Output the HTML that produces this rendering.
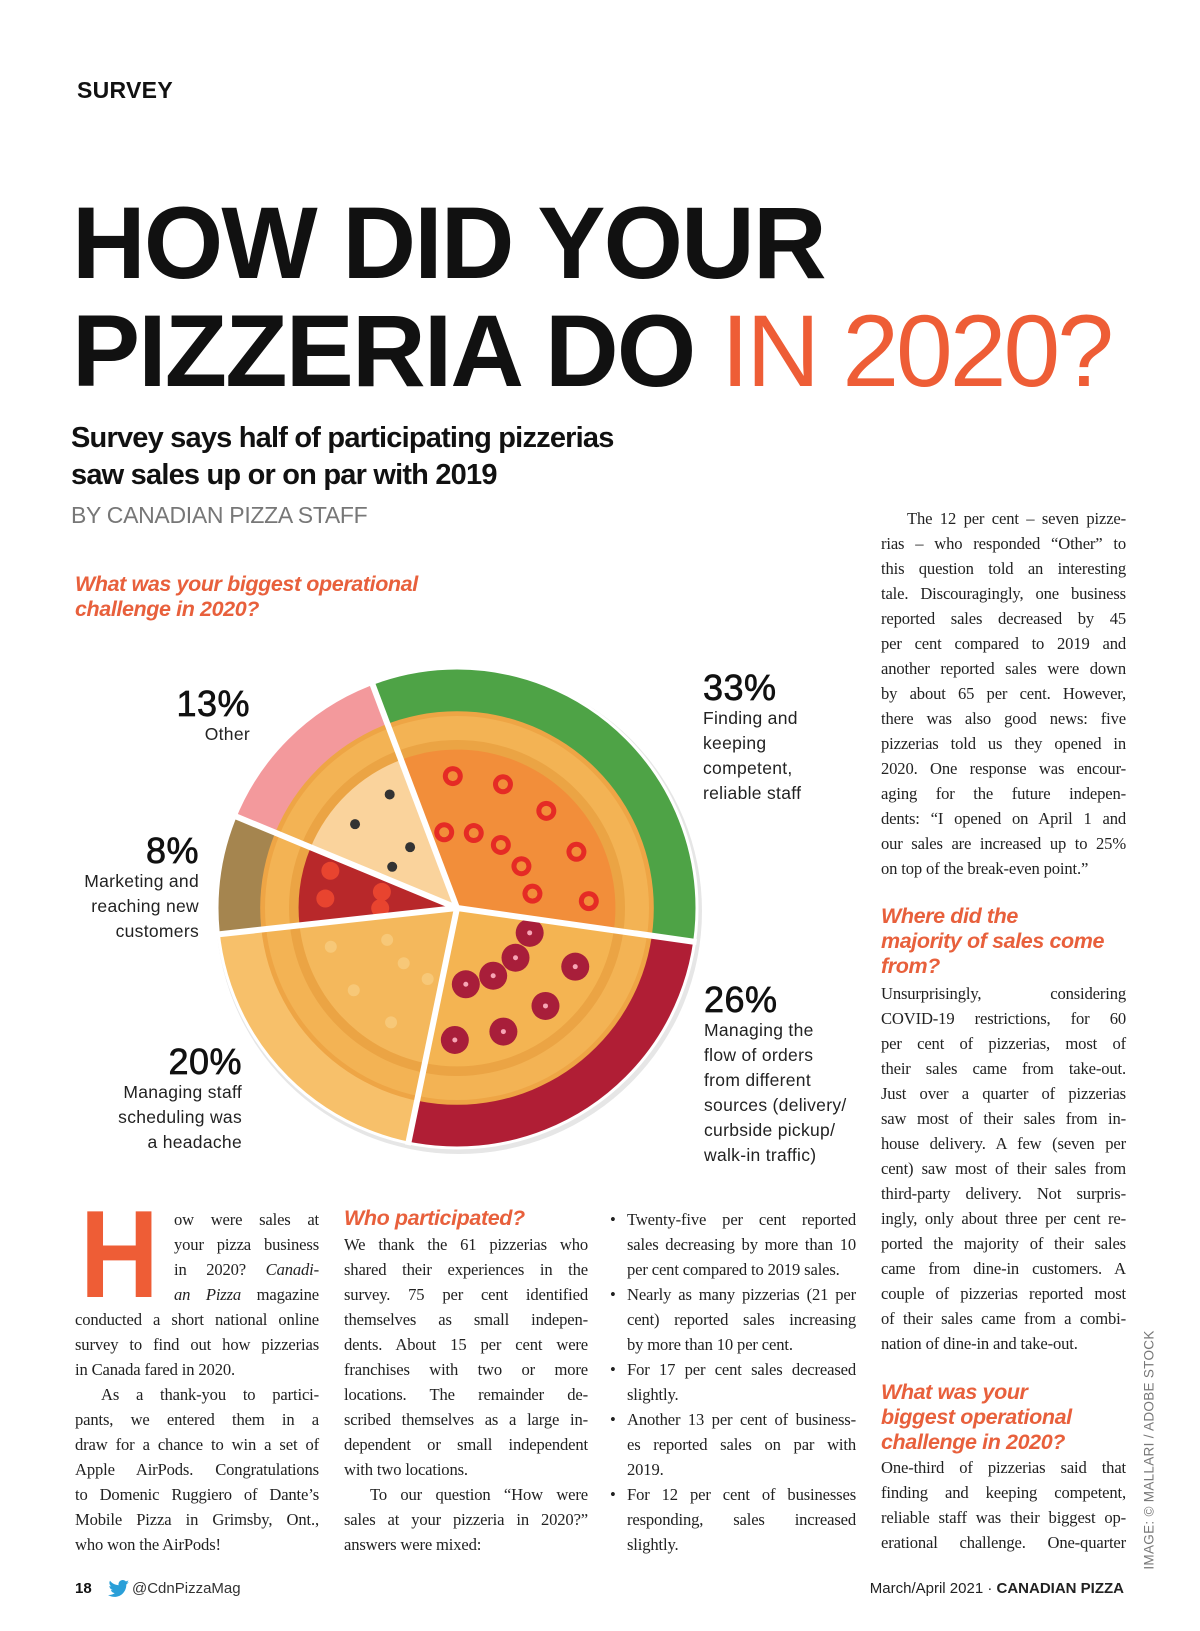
<!DOCTYPE html>
<html><head><meta charset="utf-8">
<style>
*{margin:0;padding:0;box-sizing:border-box}
body{width:1200px;height:1631px;background:#fff;position:relative;overflow:hidden;font-family:"Liberation Sans",sans-serif;color:#111}
.abs{position:absolute;white-space:nowrap}
.blk{position:absolute;font-family:"Liberation Serif",serif;font-size:16.6px;line-height:25px;color:#222;letter-spacing:-0.15px}
.blk div{white-space:nowrap;text-align:justify;text-align-last:justify;height:25px;overflow:visible}
.blk div.l{text-align-last:left}
.blk div.i{text-indent:26px}
.oh{font-weight:bold;font-style:italic;color:#e8603c;font-size:21.5px;line-height:25px;letter-spacing:-0.4px}
.pct{font-size:36px;-webkit-text-stroke:0.7px #111;letter-spacing:0.5px;line-height:36px}
.lab{font-size:17.5px;line-height:25px;color:#222;letter-spacing:0.3px}
</style></head><body>
<div class="abs" style="left:77px;top:77px;font-size:23px;font-weight:bold;letter-spacing:0.3px">SURVEY</div>
<div class="abs" style="left:72px;top:189px;font-size:102px;line-height:108px;font-weight:bold;letter-spacing:-1.8px">HOW DID YOUR<br>PIZZERIA DO <span style="font-weight:normal;color:#ee5d36;letter-spacing:-3px">IN 2020?</span></div>
<div class="abs" style="left:71px;top:420px;font-size:29px;line-height:37px;font-weight:bold;letter-spacing:-0.8px">Survey says half of participating pizzerias<br>saw sales up or on par with 2019</div>
<div class="abs" style="left:71px;top:502px;font-size:23px;color:#777;letter-spacing:-0.3px">BY CANADIAN PIZZA STAFF</div>
<div class="abs oh" style="left:75px;top:572px">What was your biggest operational<br>challenge in 2020?</div>

<svg id="pie" width="1200" height="1631" style="position:absolute;left:0;top:0"></svg>

<div class="abs" style="right:950px;top:686px;text-align:right"><div class="pct">13%</div><div class="lab">Other</div></div>
<div class="abs" style="right:1001px;top:833px;text-align:right"><div class="pct">8%</div><div class="lab">Marketing and<br>reaching new<br>customers</div></div>
<div class="abs" style="right:958px;top:1044px;text-align:right"><div class="pct">20%</div><div class="lab">Managing staff<br>scheduling was<br>a headache</div></div>
<div class="abs" style="left:703px;top:670px"><div class="pct">33%</div><div class="lab">Finding and<br>keeping<br>competent,<br>reliable staff</div></div>
<div class="abs" style="left:704px;top:982px"><div class="pct">26%</div><div class="lab">Managing the<br>flow of orders<br>from different<br>sources (delivery/<br>curbside pickup/<br>walk-in traffic)</div></div>

<div class="blk" style="left:881px;top:506px;width:245px">
<div class="i">The 12 per cent – seven pizze-</div><div>rias – who responded “Other” to</div><div>this question told an interesting</div><div>tale. Discouragingly, one business</div><div>reported sales decreased by 45</div><div>per cent compared to 2019 and</div><div>another reported sales were down</div><div>by about 65 per cent. However,</div><div>there was also good news: five</div><div>pizzerias told us they opened in</div><div>2020. One response was encour-</div><div>aging for the future indepen-</div><div>dents: “I opened on April 1 and</div><div>our sales are increased up to 25%</div><div class="l">on top of the break-even point.”</div>
</div>
<div class="abs oh" style="left:881px;top:904px">Where did the<br>majority of sales come<br>from?</div>
<div class="blk" style="left:881px;top:981px;width:245px">
<div>Unsurprisingly, considering</div><div>COVID-19 restrictions, for 60</div><div>per cent of pizzerias, most of</div><div>their sales came from take-out.</div><div>Just over a quarter of pizzerias</div><div>saw most of their sales from in-</div><div>house delivery. A few (seven per</div><div>cent) saw most of their sales from</div><div>third-party delivery. Not surpris-</div><div>ingly, only about three per cent re-</div><div>ported the majority of their sales</div><div>came from dine-in customers. A</div><div>couple of pizzerias reported most</div><div>of their sales came from a combi-</div><div class="l">nation of dine-in and take-out.</div>
</div>
<div class="abs oh" style="left:881px;top:1380px">What was your<br>biggest operational<br>challenge in 2020?</div>
<div class="blk" style="left:881px;top:1455px;width:245px">
<div>One-third of pizzerias said that</div><div>finding and keeping competent,</div><div>reliable staff was their biggest op-</div><div>erational challenge. One-quarter</div>
</div>
<div class="abs" style="left:1149px;top:1450px;transform:translate(-50%,-50%) rotate(-90deg);font-size:13.5px;color:#777;letter-spacing:0.3px">IMAGE: © MALLARI / ADOBE STOCK</div>

<div class="abs" style="left:80px;top:1190px;font-size:124px;line-height:130px;font-weight:bold;color:#ee5d36;transform:scaleX(0.88);transform-origin:left">H</div>
<div class="blk" style="left:75px;top:1207px;width:244px">
<div style="margin-left:99px">ow were sales at</div><div style="margin-left:99px">your pizza business</div><div style="margin-left:99px">in 2020? <i>Canadi-</i></div><div style="margin-left:99px"><i>an Pizza</i> magazine</div><div>conducted a short national online</div><div>survey to find out how pizzerias</div><div class="l">in Canada fared in 2020.</div><div class="i">As a thank-you to partici-</div><div>pants, we entered them in a</div><div>draw for a chance to win a set of</div><div>Apple AirPods. Congratulations</div><div>to Domenic Ruggiero of Dante’s</div><div>Mobile Pizza in Grimsby, Ont.,</div><div class="l">who won the AirPods!</div>
</div>
<div class="abs oh" style="left:344px;top:1206px">Who participated?</div>
<div class="blk" style="left:344px;top:1232px;width:244px">
<div>We thank the 61 pizzerias who</div><div>shared their experiences in the</div><div>survey. 75 per cent identified</div><div>themselves as small indepen-</div><div>dents. About 15 per cent were</div><div>franchises with two or more</div><div>locations. The remainder de-</div><div>scribed themselves as a large in-</div><div>dependent or small independent</div><div class="l">with two locations.</div><div class="i">To our question “How were</div><div>sales at your pizzeria in 2020?”</div><div class="l">answers were mixed:</div>
</div>
<div class="blk" style="left:627px;top:1207px;width:229px">
<div>Twenty-five per cent reported</div><div>sales decreasing by more than 10</div><div class="l">per cent compared to 2019 sales.</div>
<div>Nearly as many pizzerias (21 per</div><div>cent) reported sales increasing</div><div class="l">by more than 10 per cent.</div>
<div>For 17 per cent sales decreased</div><div class="l">slightly.</div>
<div>Another 13 per cent of business-</div><div>es reported sales on par with</div><div class="l">2019.</div>
<div>For 12 per cent of businesses</div><div>responding, sales increased</div><div class="l">slightly.</div>
</div>
<div class="blk" style="left:610px;top:1207px;width:10px">
<div class="l">•</div><div></div><div></div><div class="l">•</div><div></div><div></div><div class="l">•</div><div></div><div class="l">•</div><div></div><div></div><div class="l">•</div>
</div>

<div class="abs" style="left:75px;top:1580px;font-size:15px;font-weight:bold">18</div>
<svg class="abs" style="left:108px;top:1580px" width="22" height="18" viewBox="0 0 22 18"><path d="M21 2c-.8.4-1.6.6-2.4.7.9-.5 1.5-1.4 1.8-2.3-.8.5-1.7.8-2.6 1C17 .5 15.9 0 14.7 0c-2.3 0-4.2 1.9-4.2 4.2 0 .3 0 .6.1 1C7.1 5 4 3.4 2 .8c-.4.6-.6 1.4-.6 2.1 0 1.5.7 2.7 1.9 3.5-.7 0-1.3-.2-1.9-.5 0 2 1.5 3.7 3.4 4.1-.6.2-1.3.2-1.9.1.5 1.7 2.1 2.9 3.9 2.9C5.3 14.2 3 15 .7 15c-.3 0-.5 0-.7 0 1.9 1.2 4.1 1.9 6.4 1.9 7.7 0 11.9-6.4 11.9-11.9v-.5c.9-.7 1.5-1.4 2.7-2.5z" fill="#2a9fd8"/></svg>
<div class="abs" style="left:132px;top:1580px;font-size:15px;color:#333">@CdnPizzaMag</div>
<div class="abs" style="right:76px;top:1580px;font-size:15px;color:#222">March/April 2021 · <b>CANADIAN PIZZA</b></div>

<script>
const categories = ["Finding and keeping competent, reliable staff","Managing the flow of orders","Managing staff scheduling","Marketing and reaching new customers","Other"];
const values = [33, 26, 20, 8, 13];
const ringColors = ["#4ea346","#b01e35","#f7c06a","#a5854f","#f3999c"];
const toppingColors = ["#f28e3a","#f4b452","#f4b85c","#b8282a","#fad39c"];
const startDeg = -20.7;

const svg = document.getElementById('pie');
const NS = 'http://www.w3.org/2000/svg';
const cx = 457, cy = 908, R = 240;
const total = values.reduce((a,b)=>a+b,0);
function angle(v){ return startDeg + v/total*360; }
function pt(deg, r){ const a=(deg-90)*Math.PI/180; return [cx+r*Math.cos(a), cy+r*Math.sin(a)]; }
function wedge(a0,a1,r,fill,name){
  const p0=pt(a0,r), p1=pt(a1,r), large=(a1-a0)>180?1:0;
  const p=document.createElementNS(NS,'path');
  p.setAttribute('d',`M${cx},${cy}L${p0[0]},${p0[1]}A${r},${r} 0 ${large} 1 ${p1[0]},${p1[1]}Z`);
  p.setAttribute('fill',fill);
  
  
  svg.appendChild(p);
}
function circ(x,y,r,fill,name){
  const c=document.createElementNS(NS,'circle');
  c.setAttribute('cx',x);c.setAttribute('cy',y);c.setAttribute('r',r);c.setAttribute('fill',fill);
  
  
  svg.appendChild(c);
}
circ(cx+2,cy+3,R+3,'#e6e6e6','pie-shadow');
let acc=0;
const bounds=[];
values.forEach((v,i)=>{
  const a0=angle(acc), a1=angle(acc+v);
  bounds.push([a0,a1]);
  wedge(a0,a1,R,ringColors[i],'slice-ring-'+(i+1));
  acc+=v;
});
circ(cx,cy,R*0.82,'#eea545','pizza-crust');
circ(cx,cy,R*0.80,'#f3b354','pizza-crust-inner');
circ(cx,cy,R*0.70,'#eba444','pizza-crust-edge');
bounds.forEach((b,i)=>{ wedge(b[0],b[1],R*0.66,toppingColors[i],'slice-topping-'+(i+1)); });
bounds.forEach((b,i)=>{
  const span=b[1]-b[0];
  const n=Math.max(2,Math.round(span/22));
  for(let k=0;k<n;k++){
    [0.32,0.55].forEach((f,j)=>{
      const d=b[0]+span*(k+0.5+(j?0.35:0))/(n+0.35);
      const p=pt(d,R*f);
      if(i===0){ circ(p[0],p[1],10,'#e52b25','pepper'); circ(p[0],p[1],5,toppingColors[0],'pepper-hole'); }
      else if(i===1){ circ(p[0],p[1],14,'#a81e3a','pepperoni'); circ(p[0],p[1],2.5,'#f6a5b5','pepperoni-dot'); }
      else if(i===2){ circ(p[0],p[1],6,'#f7c878','cheese-bubble'); }
      else if(i===3){ circ(p[0],p[1],9,'#e8442f','tomato'); }
      else { circ(p[0],p[1],5,'#333','olive'); }
    });
  }
});
bounds.forEach((b,i)=>{
  const p=pt(b[0],R+2);
  const l=document.createElementNS(NS,'line');
  l.setAttribute('x1',cx);l.setAttribute('y1',cy);l.setAttribute('x2',p[0]);l.setAttribute('y2',p[1]);
  l.setAttribute('stroke','#fff');l.setAttribute('stroke-width','6');
  
  
  svg.appendChild(l);
});
const o=document.createElementNS(NS,'circle');
o.setAttribute('cx',cx);o.setAttribute('cy',cy);o.setAttribute('r',R);o.setAttribute('fill','none');o.setAttribute('stroke','#fff');o.setAttribute('stroke-width','3');


svg.appendChild(o);
</script>
</body></html>
